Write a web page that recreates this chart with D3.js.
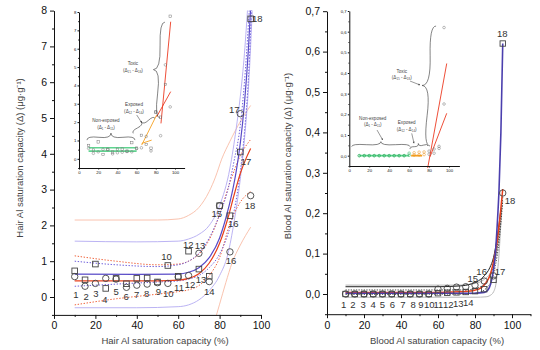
<!DOCTYPE html>
<html lang="en">
<head>
<meta charset="UTF-8">
<title>Al saturation capacity</title>
<script src="https://d3js.org/d3.v7.min.js"></script>
<style>
  body { margin: 0; background: #fff; font-family: Arial, "Liberation Sans", sans-serif; }
  .axis path, .axis line { stroke: #111; stroke-width: 1; }
  .axis text { font-family: Arial, "Liberation Sans", sans-serif; fill: #111; }
  .title { font-size: 9.5px; fill: #444; }
  .plabel { font-size: 9.5px; fill: #333; text-anchor: middle; }
  .inote { font-size: 4.6px; fill: #444; text-anchor: middle; }
</style>
</head>
<body>
<script>
// ---- data ----
const pct = [10, 15, 20, 25, 30, 35, 40, 45, 50, 55, 60, 65, 70, 75, 80, 85, 90, 95];
const hairSquares = [0.73, 0.48, 0.92, 0.24, 0.52, 0.37, 0.52, 0.53, 0.42, 0.88, 0.58, 1.28, 0.78, 0.58, 2.55, 2.27, 4.05, 7.77];
const hairCircles = [0.57, 0.30, 0.38, 0.52, 0.50, 0.27, 0.33, 0.36, 0.40, 0.38, 0.56, 0.60, 1.22, 0.43, 2.55, 1.26, 5.12, 2.83];
const bloodSquares = [0, 0, 0, 0, 0, 0, 0, 0, 0, 0, 0.002, 0.003, 0.004, 0.005, 0.007, 0.012, 0.035, 0.62];
const bloodCircles = [0, 0, 0, 0, 0, 0, 0, 0, 0, 0, 0.012, 0.014, 0.017, 0.018, 0.022, 0.032, 0.045, 0.25];

// fitted curves, [x, y]
const hairSqFit  = [[10,0.64],[40,0.63],[60,0.64],[65,0.69],[70,0.82],[75,1.1],[80,1.65],[83,2.2],[86,2.9],[88,3.5],[90,4.3],[92,5.4],[94,7.0],[95.2,8.3]];
const hairSqCIhi = [[10,1.0],[30,0.9],[50,0.85],[60,0.9],[65,1.0],[70,1.22],[75,1.65],[80,2.3],[84,3.0],[87,3.8],[90,4.8],[92,6.0],[94,7.7],[94.6,8.3]];
const hairSqCIlo = [[10,0.3],[30,0.36],[50,0.42],[60,0.45],[65,0.5],[70,0.6],[75,0.82],[80,1.2],[84,1.75],[87,2.4],[90,3.5],[92,4.6],[94,6.2],[95.6,8.3]];
const hairSqPIhi = [[10,1.56],[40,1.54],[60,1.56],[65,1.62],[70,1.75],[75,2.0],[80,2.55],[85,3.6],[88,4.7],[90,5.6],[92,6.8],[93.8,8.3]];
const hairSqPIlo = [[10,-0.3],[40,-0.3],[60,-0.27],[65,-0.22],[70,-0.08],[75,0.18],[80,0.6],[84,1.2],[87,2.1],[90,3.3],[92,4.4],[94,5.9],[96,8.3]];
const hairCiFit  = [[10,0.45],[50,0.45],[60,0.47],[65,0.52],[70,0.65],[75,0.95],[80,1.5],[84,2.2],[87,2.85],[90,3.45],[93,3.9],[95,4.15]];
const hairCiCIhi = [[10,1.15],[30,1.0],[50,0.9],[60,0.92],[65,1.0],[70,1.2],[75,1.6],[80,2.3],[85,3.2],[90,3.95],[95,4.4]];
const hairCiCIlo = [[10,-0.22],[30,-0.05],[50,0.08],[60,0.15],[65,0.2],[70,0.32],[75,0.6],[80,1.1],[85,2.05],[90,2.65],[95,2.95]];
const hairCiPIhi = [[10,2.15],[50,2.15],[60,2.18],[65,2.28],[70,2.5],[75,2.95],[78,3.35],[81,3.85],[85,4.35],[90,4.9],[95,5.35]];
const hairCiPIlo = [[78,-0.6],[80,-0.2],[83,0.4],[86,0.95],[90,1.45],[95,1.95]];

const bloodPIhi = [[10,0.022],[70,0.022],[80,0.026],[85,0.036],[88,0.05],[90,0.07],[92,0.11],[94,0.18]];
const bloodPIlo = [[10,-0.008],[80,-0.008],[86,-0.007],[88,-0.004],[90,0.005],[91.5,0.03],[93,0.1],[94.5,0.22]];
const bloodDark = [[10,0.018],[60,0.018],[72,0.02],[78,0.025],[82,0.033],[85,0.045],[88,0.065],[90,0.09],[92,0.14],[94,0.21]];
const bloodCIhi = [[10,0.01],[75,0.01],[82,0.016],[86,0.03],[89,0.055],[91,0.09],[93,0.15],[95,0.24]];
const bloodCIlo = [[10,-0.001],[75,0],[82,0.004],[86,0.014],[89,0.035],[91,0.07],[93,0.13],[95,0.23]];
const bloodCiFit = [[10,0.004],[60,0.004],[75,0.006],[82,0.012],[86,0.028],[88,0.045],[90,0.08],[92,0.13],[93.5,0.19],[95,0.26]];
const bloodSqFit = [[10,0.002],[80,0.002],[85,0.004],[87,0.01],[88.5,0.025],[90,0.06],[91,0.1],[92,0.17],[93,0.26],[94,0.4],[95,0.62]];

// inset segments
const insHairGreenA = [[10,0.6],[60,0.6]];
const insHairGreenB = [[10,0.42],[60,0.42]];
const insHairOrangeA = [[65.3,0.75],[80.9,2.39]];
const insHairOrangeB = [[65.3,0.84],[75.7,1.02]];
const insHairRedA = [[85.4,1.93],[95.5,7.47]];
const insHairRedB = [[80.9,2.29],[95.5,3.66]];
const insBloodGreen = [[10,0],[60,0]];
const insBloodOrange = [[62,0],[73,0]];
const insBloodRedA = [[78.6,-0.06],[97.7,0.446]];
const insBloodRedB = [[81,-0.005],[97.7,0.205]];

// ticks
const pctTicks = [0, 20, 40, 60, 80, 100];
const pctMinor = [10, 30, 50, 70, 90];
const hairTicks = [0, 1, 2, 3, 4, 5, 6, 7, 8];
const hairMinor = [-0.5, 0.5, 1.5, 2.5, 3.5, 4.5, 5.5, 6.5, 7.5];
const bloodTicks = [0, 0.1, 0.2, 0.3, 0.4, 0.5, 0.6, 0.7];
const bloodMinor = [-0.05, 0.05, 0.15, 0.25, 0.35, 0.45, 0.55, 0.65];

// point number labels [text, x, y] in data units
const hairLabels = [["1",10.6,0.075],["2",15.5,0.008],["3",20.3,0.10],["4",24.6,-0.07],["5",30,0.15],["6",34.8,0.0],
  ["7",39.9,0.056],["8",44.8,0.10],["9",50.4,0.15],["10",55.2,0.10],["11",60.4,0.27],["12",65.7,0.34],["13",71,0.47],
  ["14",75,0.15],["10",54.4,1.13],["12",64.9,1.47],["13",70.5,1.42],["15",78.6,2.32],["16",86.6,2.04],["16",85.5,1.01],
  ["17",92.8,3.79],["17",87.1,5.24],["18",98.2,7.78],["18",94.7,2.55]];
const bloodLabels = [["1",9,-0.0255],["2",14,-0.0255],["3",19.5,-0.0255],["4",25,-0.0255],["5",30,-0.0255],["6",35.3,-0.0255],
  ["7",41,-0.0255],["8",46.5,-0.0255],["9",50.8,-0.0255],["10",55.3,-0.0255],["11",60.2,-0.027],["12",65.6,-0.027],
  ["13",71,-0.025],["14",76.4,-0.022],["15",78.8,0.039],["16",83.6,0.055],["17",93.5,0.055],["18",98.9,0.23],["18",94.8,0.645]];

const svg = d3.select("body").append("svg").attr("width", 540).attr("height", 350);

const hx = d3.scaleLinear().domain([0, 100]).range([54, 261]);
const hy = d3.scaleLinear().domain([-0.5, 8]).range([314.9, 10.6]);
const bx = d3.scaleLinear().domain([0, 110]).range([327, 530.5]);
const by = d3.scaleLinear().domain([-0.05, 0.7]).range([314.2, 11.2]);
const hix = d3.scaleLinear().domain([0, 110]).range([79, 184.6]);
const hiy = d3.scaleLinear().domain([-0.5, 8]).range([168, 12]);
const bix = d3.scaleLinear().domain([0, 110]).range([349.3, 459]);
const biy = d3.scaleLinear().domain([-0.05, 0.7]).range([166, 11]);

const comma = d => d3.format(".1f")(d).replace(".", ",");

function axes(x, y, o) {
  const y0 = y.range()[0], x0 = x.range()[0];
  svg.append("g").attr("class", "axis").attr("transform", `translate(0,${y0})`)
    .call(d3.axisBottom(x).tickValues(o.xMinor).tickSize(o.minor).tickFormat(""))
    .select(".domain").remove();
  svg.append("g").attr("class", "axis").attr("transform", `translate(${x0},0)`)
    .call(d3.axisLeft(y).tickValues(o.yMinor).tickSize(o.minor).tickFormat(""))
    .select(".domain").remove();
  const gx = svg.append("g").attr("class", "axis").attr("transform", `translate(0,${y0})`)
    .call(d3.axisBottom(x).tickValues(o.xTicks).tickSize(o.major).tickSizeOuter(0).tickPadding(o.pad));
  const gy = svg.append("g").attr("class", "axis").attr("transform", `translate(${x0},0)`)
    .call(d3.axisLeft(y).tickValues(o.yTicks).tickFormat(o.yFormat).tickSize(o.major).tickSizeOuter(0).tickPadding(o.pad));
  gx.selectAll("text").style("font-size", o.font + "px");
  gy.selectAll("text").style("font-size", o.font + "px");
  if (o.thin) svg.selectAll(".axis").filter(function () { return !this.__done; });
  return [gx, gy];
}

function curve(g, data, x, y, color, width, dash) {
  g.append("path").datum(data)
    .attr("d", d3.line().x(d => x(d[0])).y(d => y(d[1])).curve(d3.curveMonotoneX))
    .attr("fill", "none").attr("stroke", color).attr("stroke-width", width)
    .attr("stroke-dasharray", dash || null);
}

function markers(g, xs, ys, x, y, kind, size, color, sw) {
  if (kind === "circle") {
    g.selectAll(null).data(xs.map((v, i) => [v, ys[i]])).enter().append("circle")
      .attr("cx", d => x(d[0])).attr("cy", d => y(d[1])).attr("r", size)
      .attr("fill", "none").attr("stroke", typeof color === "function" ? (d, i) => color(i) : color).attr("stroke-width", sw);
  } else {
    g.selectAll(null).data(xs.map((v, i) => [v, ys[i]])).enter().append("rect")
      .attr("x", d => x(d[0]) - size / 2).attr("y", d => y(d[1]) - size / 2)
      .attr("width", size).attr("height", size)
      .attr("fill", "none").attr("stroke", typeof color === "function" ? (d, i) => color(i) : color).attr("stroke-width", sw);
  }
}

// curly brace between two points, tip on the left of the 1->2 direction
function brace(x1, y1, x2, y2, w, q) {
  let dx = x1 - x2, dy = y1 - y2;
  const len = Math.sqrt(dx * dx + dy * dy); dx /= len; dy /= len;
  const qx1 = x1 + q * w * dy, qy1 = y1 - q * w * dx;
  const qx2 = (x1 - .25 * len * dx) + (1 - q) * w * dy, qy2 = (y1 - .25 * len * dy) - (1 - q) * w * dx;
  const tx1 = (x1 - .5 * len * dx) + w * dy, ty1 = (y1 - .5 * len * dy) - w * dx;
  const qx3 = x2 + q * w * dy, qy3 = y2 - q * w * dx;
  const qx4 = (x1 - .75 * len * dx) + (1 - q) * w * dy, qy4 = (y1 - .75 * len * dy) - (1 - q) * w * dx;
  return `M${x1},${y1}Q${qx1},${qy1} ${qx2},${qy2}T${tx1},${ty1}M${x2},${y2}Q${qx3},${qy3} ${qx4},${qy4}T${tx1},${ty1}`;
}

function drawBrace(x, y, a, b, w) {
  svg.append("path").attr("d", brace(x(a[0]), y(a[1]), x(b[0]), y(b[1]), w, 0.6))
    .attr("fill", "none").attr("stroke", "#333").attr("stroke-width", 0.6);
}

function arrow(x, y, a, b) {
  const x1 = x(a[0]), y1 = y(a[1]), x2 = x(b[0]), y2 = y(b[1]);
  const ang = Math.atan2(y2 - y1, x2 - x1);
  svg.append("line").attr("x1", x1).attr("y1", y1).attr("x2", x2).attr("y2", y2)
    .attr("stroke", "#333").attr("stroke-width", 0.5);
  const h = 1.8;
  svg.append("path")
    .attr("d", `M${x2},${y2}L${x2 - h * Math.cos(ang - 0.5)},${y2 - h * Math.sin(ang - 0.5)}L${x2 - h * Math.cos(ang + 0.5)},${y2 - h * Math.sin(ang + 0.5)}Z`)
    .attr("fill", "#333");
}

function note(x, y, lines, px, py) {
  const t = svg.append("text").attr("class", "inote").attr("x", x(px)).attr("y", y(py));
  lines.forEach((s, i) => t.append("tspan").attr("x", x(px)).attr("dy", i === 0 ? 0 : "1.45em").text(s));
}

// clip areas
const defs = svg.append("defs");
defs.append("clipPath").attr("id", "clipH").append("rect")
  .attr("x", 54).attr("y", 10.6).attr("width", 207).attr("height", 304.3);
defs.append("clipPath").attr("id", "clipB").append("rect")
  .attr("x", 327).attr("y", 11.2).attr("width", 203.5).attr("height", 303);

// ---- left panel: hair ----
const gh = svg.append("g").attr("clip-path", "url(#clipH)");
curve(gh, hairCiPIhi, hx, hy, "#f8bca6", 0.9);
curve(gh, hairCiPIlo, hx, hy, "#f8bca6", 0.9);
curve(gh, hairSqPIhi, hx, hy, "#b3aaf2", 0.9);
curve(gh, hairSqPIlo, hx, hy, "#b3aaf2", 0.9);
curve(gh, hairCiCIhi, hx, hy, "#f0623a", 1, "1.4,1.6");
curve(gh, hairCiCIlo, hx, hy, "#f0623a", 1, "1.4,1.6");
curve(gh, hairSqCIhi, hx, hy, "#6f5fdc", 1, "1.4,1.6");
curve(gh, hairSqCIlo, hx, hy, "#6f5fdc", 1, "1.4,1.6");
curve(gh, hairCiFit, hx, hy, "#e8401c", 1.2);
curve(gh, hairSqFit, hx, hy, "#5a4cc8", 1.2);
markers(gh, pct, hairSquares, hx, hy, "rect", 5.6, "#444", 0.9);
markers(gh, pct, hairCircles, hx, hy, "circle", 3.2, "#444", 0.9);

axes(hx, hy, { xTicks: pctTicks, xMinor: pctMinor, yTicks: hairTicks, yMinor: hairMinor,
  yFormat: d3.format("d"), major: 4, minor: 2, pad: 3, font: 10.5 });

svg.selectAll(null).data(hairLabels).enter().append("text").attr("class", "plabel")
  .attr("x", d => hx(d[1])).attr("y", d => hy(d[2])).attr("dy", "0.35em").text(d => d[0]);

svg.append("text").attr("class", "title").attr("x", 165).attr("y", 344).attr("text-anchor", "middle")
  .text("Hair Al saturation capacity (%)");
svg.append("text").attr("class", "title").attr("transform", "translate(23,158) rotate(-90)")
  .attr("text-anchor", "middle").text("Hair Al saturation capacity (Δ) (μg·g⁻¹)");

// left inset
curve(svg, insHairGreenA, hix, hiy, "#5fd38f", 1.6);
curve(svg, insHairGreenB, hix, hiy, "#5fd38f", 1.6);
curve(svg, insHairOrangeA, hix, hiy, "#f5a020", 0.9);
curve(svg, insHairOrangeB, hix, hiy, "#f5a020", 0.9);
curve(svg, insHairRedA, hix, hiy, "#ec3b22", 0.9);
curve(svg, insHairRedB, hix, hiy, "#ec3b22", 0.9);
markers(svg, pct, hairSquares, hix, hiy, "rect", 2.4, "#777", 0.5);
markers(svg, pct, hairCircles, hix, hiy, "circle", 1.3, "#777", 0.5);
axes(hix, hiy, { xTicks: pctTicks, xMinor: pctMinor, yTicks: hairTicks, yMinor: hairMinor,
  yFormat: d3.format("d"), major: 1.5, minor: 0.8, pad: 1.2, font: 4.3 });

drawBrace(hix, hiy, [58.3, 1.02], [8.3, 1.02], 7);
drawBrace(hix, hiy, [79.1, 2.21], [56.5, 1.39], 5);
drawBrace(hix, hiy, [89.5, 7.45], [84.3, 2.22], 9);
arrow(hix, hiy, [60.1, 2.39], [65.3, 1.97]);
note(hix, hiy, ["Non-exposed", "(Δ₁ - Δ₁₁)"], 28.1, 2.0);
note(hix, hiy, ["Exposed", "(Δ₁₂ - Δ₁₄)"], 57.3, 2.88);
note(hix, hiy, ["Toxic", "(Δ₁₅ - Δ₁₈)"], 56.2, 5.12);

// ---- right panel: blood ----
const gb = svg.append("g").attr("clip-path", "url(#clipB)");
curve(gb, bloodPIhi, bx, by, "#b8b8b8", 1);
curve(gb, bloodPIlo, bx, by, "#b8b8b8", 1);
curve(gb, bloodCIhi, bx, by, "#333", 0.9, "1.3,1.3");
curve(gb, bloodCIlo, bx, by, "#333", 0.9, "1.3,1.3");
curve(gb, bloodDark, bx, by, "#222", 1);
curve(gb, bloodCiFit, bx, by, "#e8401c", 1.5);
curve(gb, bloodSqFit, bx, by, "#4b3fae", 1.6);
markers(gb, pct, bloodSquares, bx, by, "rect", 5.4, "#444", 0.9);
markers(gb, pct, bloodCircles, bx, by, "circle", 3.2, "#444", 0.9);

axes(bx, by, { xTicks: pctTicks, xMinor: pctMinor.concat([110]), yTicks: bloodTicks, yMinor: bloodMinor,
  yFormat: comma, major: 4, minor: 2, pad: 3, font: 10.5 });

svg.selectAll(null).data(bloodLabels).enter().append("text").attr("class", "plabel")
  .attr("x", d => bx(d[1])).attr("y", d => by(d[2])).attr("dy", "0.35em").text(d => d[0]);

svg.append("text").attr("class", "title").attr("x", 437).attr("y", 344).attr("text-anchor", "middle")
  .text("Blood Al saturation capacity (%)");
svg.append("text").attr("class", "title").attr("transform", "translate(291,156) rotate(-90)")
  .attr("text-anchor", "middle").text("Blood Al saturation capacity (Δ) (μg·g⁻¹)");

// right inset
curve(svg, insBloodGreen, bix, biy, "#5fd38f", 1.6);
curve(svg, insBloodOrange, bix, biy, "#f5a020", 1.8);
curve(svg, insBloodRedA, bix, biy, "#ec3b22", 0.9);
curve(svg, insBloodRedB, bix, biy, "#ec3b22", 0.9);
const groupColor = i => i <= 10 ? "#2fae5f" : i <= 13 ? "#e8901a" : "#777";
markers(svg, pct, bloodCircles, bix, biy, "circle", 1.3, groupColor, 0.5);
markers(svg, pct, bloodSquares, bix, biy, "circle", 1.3, groupColor, 0.5);
axes(bix, biy, { xTicks: pctTicks, xMinor: pctMinor.concat([110]), yTicks: bloodTicks, yMinor: bloodMinor,
  yFormat: comma, major: 1.5, minor: 0.8, pad: 1.2, font: 4.3 });

drawBrace(bix, biy, [60.9, 0.0435], [2.4, 0.0435], 5);
drawBrace(bix, biy, [78.9, 0.047], [60.9, 0.032], 4);
drawBrace(bix, biy, [87, 0.627], [80.9, 0.047], 11);
arrow(bix, biy, [27.8, 0.124], [33.5, 0.076]);
arrow(bix, biy, [62.6, 0.108], [64.9, 0.06]);
arrow(bix, biy, [60.9, 0.361], [70.9, 0.342]);
note(bix, biy, ["Non-exposed", "(Δ₁ - Δ₁₁)"], 23.5, 0.174);
note(bix, biy, ["Exposed", "(Δ₁₂ - Δ₁₄)"], 57.6, 0.152);
note(bix, biy, ["Toxic", "(Δ₁₅ - Δ₁₈)"], 52.6, 0.402);
</script>
</body>
</html>
